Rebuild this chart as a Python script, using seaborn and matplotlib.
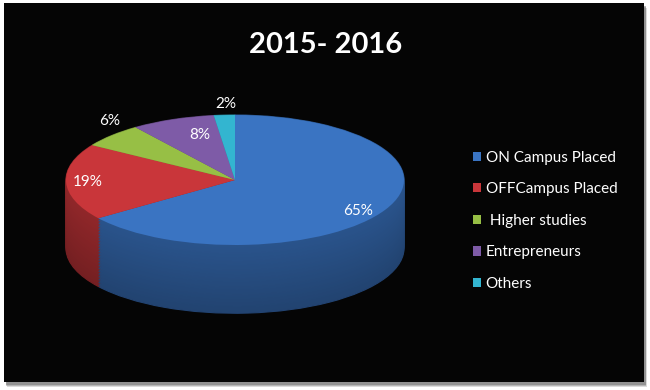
import matplotlib.pyplot as plt
import seaborn as sns
import numpy as np
from matplotlib.patches import Rectangle
from matplotlib.colors import to_rgb

# data
categories = ['ON Campus Placed', 'OFFCampus Placed', ' Higher studies', 'Entrepreneurs', 'Others']
shares = [65, 19, 6, 8, 2]
pct_labels = ['65%', '19%', '6%', '8%', '2%']

colors = ['#3a74c2', '#c9363a', '#97bf45', '#7e5ba7', '#33b5d0']
label_dist = [0.82, 0.87, 1.02, 0.57, 0.9]

sns.set_theme(style='white')
plt.rcParams['font.family'] = ['Lato', 'DejaVu Sans']

fig = plt.figure(figsize=(6.5, 3.9), dpi=100)
fig.patch.set_facecolor('white')

# black panel with a soft grey shadow
W, H = 650, 390
for k, a in zip([5, 4, 3], [0.25, 0.35, 0.5]):
    fig.patches.append(Rectangle((4/W + k/W*0.6, (8 - k)/H), 640/W, 379/H,
                                 transform=fig.transFigure, fc='#707070', ec='none',
                                 alpha=a, zorder=-3))
fig.patches.append(Rectangle((4/W, 8/H), 640/W, 379/H, transform=fig.transFigure,
                             fc='#050505', ec='none', zorder=-2))

ax = fig.add_axes([0, 0, 1, 1])
ax.patch.set_alpha(0)

# side of the 3D pie: stacked, darker copies shifted down
depth = 1.05
n = 45
for i in range(n):
    t = i / (n - 1)
    shade = 0.58 + 0.14 * t
    side = [tuple(c * shade for c in to_rgb(col)) for col in colors]
    wedges_s, _ = ax.pie(shares, colors=side, startangle=90, counterclock=False,
                         center=(0, -depth * (1 - t)), wedgeprops=dict(linewidth=0))
    for w, c in zip(wedges_s, side):
        w.set_edgecolor(c)
        w.set_linewidth(0.8)

# top face
wedges, _ = ax.pie(shares, colors=colors, startangle=90, counterclock=False,
                   wedgeprops=dict(linewidth=0))

for w, lab, d in zip(wedges, pct_labels, label_dist):
    mid = np.deg2rad((w.theta1 + w.theta2) / 2)
    ax.text(d * np.cos(mid), 1.3 * d * np.sin(mid), lab, ha='center', va='center',
            color='white', fontsize=11)

ax.set_aspect('auto')
ax.set_xlim(-235/169, 415/169)
ax.set_ylim(-210/65, 180/65)
ax.axis('off')

fig.text(326/W, 1 - 45/H, '2015- 2016', ha='center', va='center',
         fontsize=21, fontweight='bold', color='white')

fig.legend(handles=wedges, labels=categories, loc='upper left',
           bbox_to_anchor=(465/W, 1 - 143/H), frameon=False, labelcolor='white',
           fontsize=11, handlelength=0.55, handleheight=0.55, handletextpad=0.3,
           labelspacing=1.15, borderpad=0)

fig.savefig('out.png', dpi=100, facecolor='white')
